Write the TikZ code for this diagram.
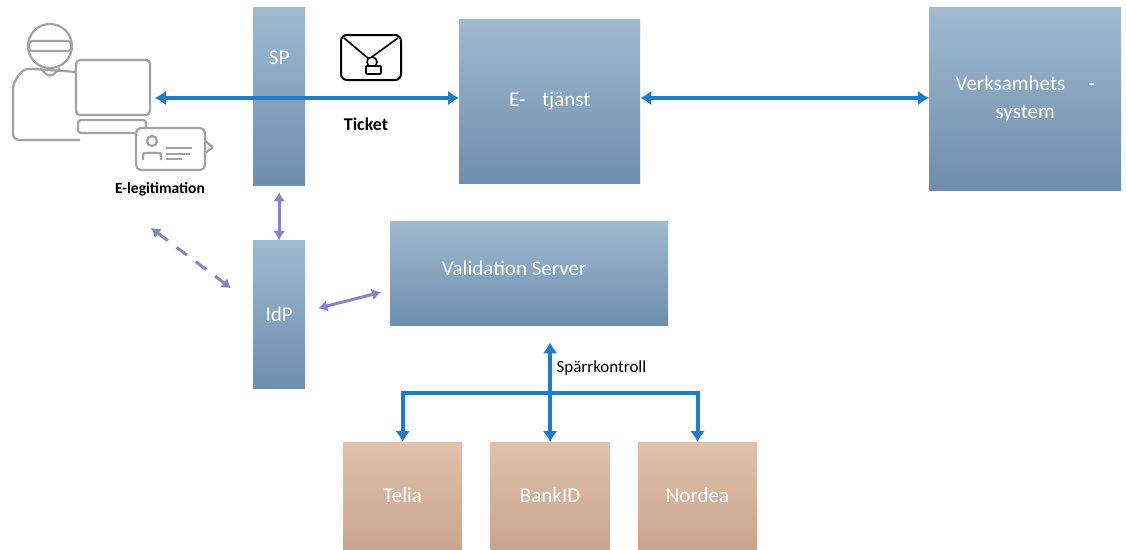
\documentclass[tikz,border=0pt]{standalone}
\usepackage{fontspec}
\setmainfont{Carlito}
\usetikzlibrary{arrows.meta,positioning,calc}

\definecolor{boxtop}{HTML}{A0B9D0}
\definecolor{boxbot}{HTML}{6D8EAD}
\definecolor{tantop}{HTML}{E0C1AC}
\definecolor{tanbot}{HTML}{C9A58D}
\definecolor{flow}{HTML}{1E7DC8}
\definecolor{idflow}{HTML}{8484CC}
\definecolor{sketch}{HTML}{A2A2A2}

\begin{document}
\begin{tikzpicture}[x=1pt, y=-1pt,
  box/.style={rectangle, top color=boxtop, bottom color=boxbot, anchor=north west, inner sep=0pt, align=center, text=white, font=\fontsize{21}{28}\selectfont},
  ca/.style={box, top color=tantop, bottom color=tanbot, minimum width=119pt, minimum height=107pt},
  boxtext/.style={text=white, font=\fontsize{21}{28}\selectfont},
  barr/.style={{Latex[length=11pt,width=15pt]}-{Latex[length=11pt,width=15pt]}, flow, line width=4pt},
  parr/.style={{Latex[length=9pt,width=12pt]}-{Latex[length=9pt,width=12pt]}, idflow, line width=3pt},
  lab/.style={font=\fontsize{14}{16}\selectfont, text=black},
  pen/.style={sketch, line width=2.2pt, rounded corners=6pt}
]
\useasboundingbox (0,0) rectangle (1126,549);

% user at the computer
\draw[pen] (77,72) -- (34,69) to[out=180,in=90] (13,95) -- (13,140) -- (80,140);
\draw[pen] (40,68) -- (50,78) -- (60,68);
\draw[pen, fill=white] (50,46) circle (22);
\draw[pen, rounded corners=3pt] (29,41) rectangle (71,51);
\draw[pen, fill=white, rounded corners=4pt] (76,60) rectangle (150,115);
\draw[pen, rounded corners=3pt] (78,120) rectangle (146,133);
\draw[pen, fill=white, rounded corners=5pt] (136,128) rectangle (205,170);
\draw[pen, rounded corners=1pt] (205,141) -- (213,147) -- (205,153);
\draw[pen] (152,141) circle (5);
\draw[pen, rounded corners=2pt] (143,160) -- (143,153) -- (161,153) -- (161,160);
\draw[pen] (166,148) -- (192,148) (166,154) -- (190,154) (166,159) -- (182,159);
\node[lab, font=\fontsize{15.5}{18}\selectfont\bfseries] (eleg) at (160,189) {E-legitimation};

% service boxes
\node[box, minimum width=52pt, minimum height=178pt] (sp) at (253,7) {};
\node[boxtext, below=40pt of sp.north] {SP};
\node[box, minimum width=52pt, minimum height=148pt] (idp) at (253,240) {IdP};
\node[box, minimum width=181pt, minimum height=164pt] (etj) at (459,19) {E-\hspace{0.8em}tjänst};
\node[box, minimum width=192pt, minimum height=183pt] (vsys) at (929,7) {Verksamhets\hspace{1.1em}-\\system};
\node[box, minimum width=278pt, minimum height=104pt] (vs) at (390,221) {};
\node[boxtext] at ($(vs.center)+(-15,-5)$) {Validation Server};

% issuers
\node[ca] (telia) at (343,442) {Telia};
\node[ca, right=28pt of telia] (bankid) {BankID};
\node[ca, right=28pt of bankid] (nordea) {Nordea};

% ticket envelope
\draw[black, line width=2pt, rounded corners=6pt] (341,35) rectangle (401,80);
\draw[black, line width=1.6pt] (344,38) -- (369,59) -- (398,38);
\draw[black, line width=1.6pt, fill=white] (372,62) circle (5);
\draw[black, line width=1.6pt, fill=white, rounded corners=1pt] (366,66) rectangle (381,74);
\node[lab, font=\fontsize{18}{20}\selectfont\bfseries] (ticket) at (366,124) {Ticket};

% main flow
\coordinate (user) at (155,98);
\draw[barr] (user) -- (user -| etj.west);
\draw[barr] (etj.east |- user) -- (user -| vsys.west);

% identity provider links
\draw[parr] ([yshift=-7pt]sp.south) -- (idp.north);
\draw[parr, dash pattern=on 13pt off 11pt] (151,228) -- ($(idp.west)+(-22,-26)$);
\draw[parr] ($(idp.east)+(13,-6)$) -- ($(vs.west)+(-9,19)$);

% revocation check
\coordinate (fork) at (548,393);
\draw[barr] (telia.north) -- (telia.north |- fork) -- (nordea.north |- fork) -- (nordea.north);
\draw[barr] (bankid.north) -- ([yshift=-17pt]vs.south -| bankid.north);
\node[lab, font=\fontsize{17}{19}\selectfont, anchor=west] (sparr) at (553,368) {Spärrkontroll};

\end{tikzpicture}
\end{document}
